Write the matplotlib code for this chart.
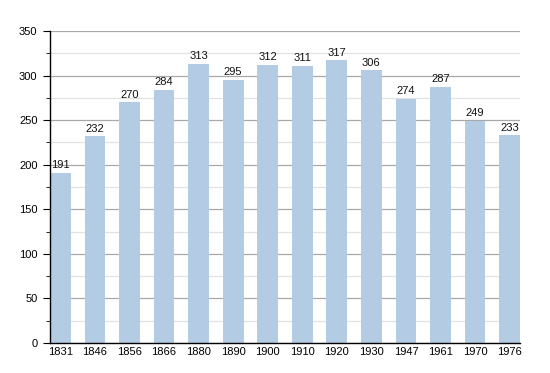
import matplotlib
matplotlib.use('Agg')
import matplotlib.pyplot as plt
from matplotlib.ticker import MultipleLocator

years = ['1831', '1846', '1856', '1866', '1880', '1890', '1900', '1910', '1920', '1930', '1947', '1961', '1970', '1976']
population = [191, 232, 270, 284, 313, 295, 312, 311, 317, 306, 274, 287, 249, 233]

plt.rcParams['font.family'] = ['Liberation Sans', 'DejaVu Sans']

fig = plt.figure(figsize=(5.5, 3.73), dpi=100)
ax = fig.add_axes([0.0909, 0.0804, 0.8545, 0.8365])

x = list(range(len(years)))
ax.bar(x, population, width=0.6, color='#b3cce4', zorder=2)
for xi, v in zip(x, population):
    ax.text(xi, v + 3, str(v), ha='center', va='bottom', fontsize=8, color='#111111', zorder=3)

ax.set_xlim(-0.3, len(years) - 0.7)
ax.set_ylim(0, 350)
ax.yaxis.set_major_locator(MultipleLocator(50))
ax.yaxis.set_minor_locator(MultipleLocator(25))
ax.grid(axis='y', which='major', color='#a8a8a8', linewidth=0.9, zorder=0)
ax.grid(axis='y', which='minor', color='#e2e2e2', linewidth=0.9, zorder=0)
ax.set_xticks(x)
ax.set_xticklabels(years)
ax.tick_params(axis='x', length=0, labelsize=8, pad=3)
ax.tick_params(axis='y', which='major', length=5, labelsize=8, pad=4)
ax.tick_params(axis='y', which='minor', length=3)
for s in ['top', 'right']:
    ax.spines[s].set_visible(False)
ax.spines['left'].set_linewidth(1.0)
ax.spines['bottom'].set_linewidth(1.0)

fig.savefig('out.png', dpi=100)
